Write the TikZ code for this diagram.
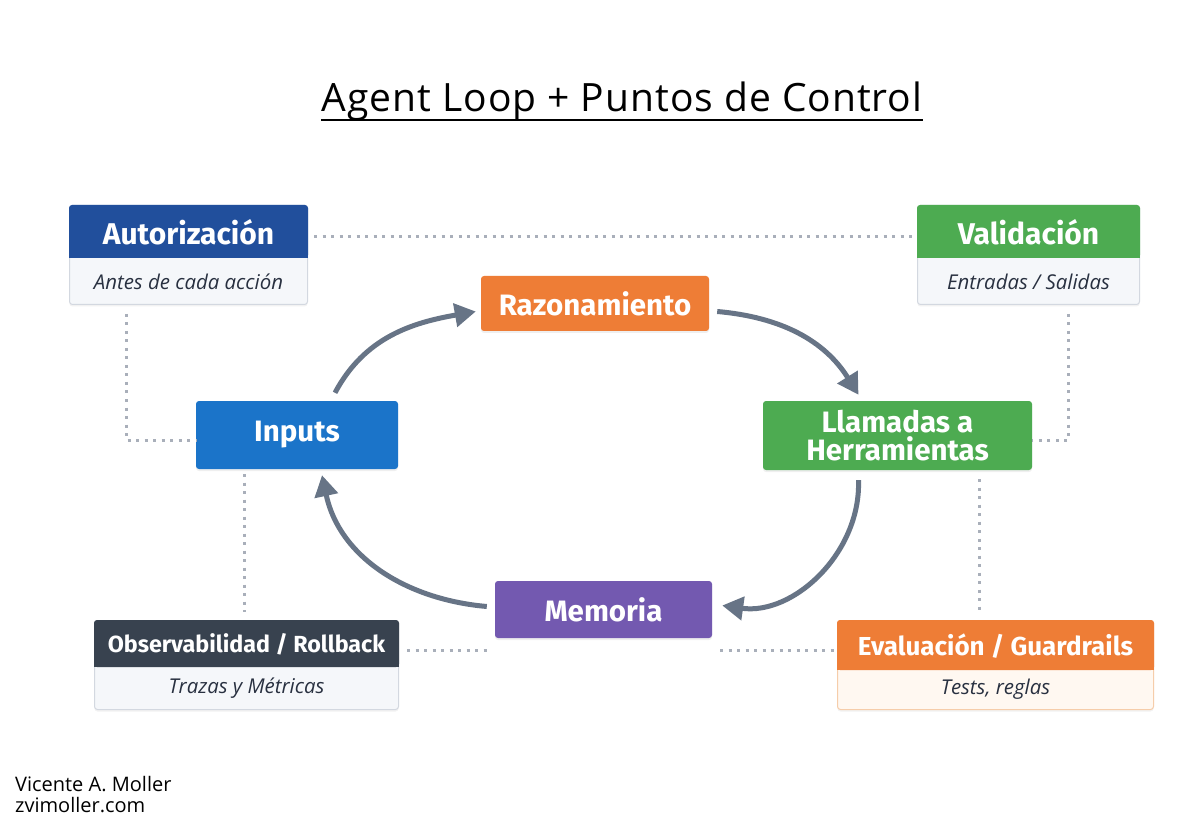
\documentclass[tikz,border=0pt]{standalone}
\usepackage{fontspec}
\setmainfont{Fira Sans}
\newfontfamily\opensans{Open Sans}
\newfontfamily\titlefont[LetterSpace=2.5]{Open Sans}
\usetikzlibrary{arrows.meta,shadows,calc}
\definecolor{autcol}{HTML}{214F9C}
\definecolor{valcol}{HTML}{4DAB51}
\definecolor{razcol}{HTML}{EE7D36}
\definecolor{inpcol}{HTML}{1B74C9}
\definecolor{memcol}{HTML}{7359B0}
\definecolor{obscol}{HTML}{38424F}
\definecolor{bodycol}{HTML}{F5F7FA}
\definecolor{bordcol}{HTML}{D3D8E0}
\definecolor{evabody}{HTML}{FFF8F1}
\definecolor{evabord}{HTML}{F6CDAA}
\definecolor{dotcol}{HTML}{A9AFBA}
\definecolor{arrcol}{HTML}{677486}
\definecolor{subtxt}{HTML}{283040}
\tikzset{
  x=1pt,y=1pt,
  loopbox/.style={rounded corners=3pt, inner sep=0pt, align=center, text=white,
    font=\fontsize{29.5}{28}\selectfont\bfseries,
    drop shadow={opacity=0.12, shadow xshift=0pt, shadow yshift=-2pt}},
  outerbox/.style={rounded corners=3pt, inner sep=0pt, fill=bodycol, draw=bordcol, line width=1pt,
    drop shadow={opacity=0.10, shadow xshift=0pt, shadow yshift=-2pt}},
  hdrtext/.style={inner sep=0pt, text=white, font=\fontsize{30}{30}\selectfont\bfseries},
  subtext/.style={inner sep=0pt, text=subtxt, font=\opensans\itshape\fontsize{20.4}{21}\selectfont},
  dotline/.style={draw=dotcol, line width=3pt, dash pattern=on 3pt off 5.5pt},
  looparrow/.style={draw=arrcol, line width=5pt, -{Triangle[length=21pt,width=23pt]}},
}
\begin{document}
\begin{tikzpicture}
\useasboundingbox (0,0) rectangle (1200,-826);
\fill[white] (0,0) rectangle (1200,-826);

% title
\node[anchor=base, inner sep=0pt, font=\titlefont\fontsize{39}{40}\selectfont] (title) at (622,-112) {Agent Loop + Puntos de Control};
\draw[line width=2pt] ([yshift=-8pt]title.base west) -- ([yshift=-8pt]title.base east);

% loop boxes
\node[loopbox, fill=razcol, minimum width=228pt, minimum height=55pt] (raz) at (595,-303.5) {Razonamiento};
\node[loopbox, fill=inpcol, minimum width=202pt, minimum height=68pt] (inp) at (297,-435) {Inputs};
\node[loopbox, fill=valcol, minimum width=269pt, minimum height=69pt] (llm) at (897.5,-435.5) {Llamadas a\\Herramientas};
\node[loopbox, fill=memcol, minimum width=217pt, minimum height=57pt] (mem) at (603.5,-609.5) {Memoria};

% Autorizacion
\node[outerbox, minimum width=238pt, minimum height=99pt, anchor=north west] (aut) at (69,-205) {};
\fill[autcol, rounded corners=3pt] (aut.north west) rectangle ([yshift=-53pt]aut.north east);
\fill[autcol] ([yshift=-20pt]aut.north west) rectangle ([yshift=-53pt]aut.north east);
\node[hdrtext] (autT) at ([yshift=-27pt]aut.north) {Autorización};
\node[subtext] (autS) at ([yshift=-77pt]aut.north) {Antes de cada acción};

% Validacion
\node[outerbox, minimum width=222pt, minimum height=99pt, anchor=north west] (val) at (917,-205) {};
\fill[valcol, rounded corners=3pt] (val.north west) rectangle ([yshift=-53pt]val.north east);
\fill[valcol] ([yshift=-20pt]val.north west) rectangle ([yshift=-53pt]val.north east);
\node[hdrtext] (valT) at ([yshift=-27pt]val.north) {Validación};
\node[subtext] (valS) at ([yshift=-77pt]val.north) {Entradas / Salidas};

% Observabilidad
\node[outerbox, minimum width=304pt, minimum height=89pt, anchor=north west] (obs) at (94,-620) {};
\fill[obscol, rounded corners=3pt] (obs.north west) rectangle ([yshift=-47pt]obs.north east);
\fill[obscol] ([yshift=-20pt]obs.north west) rectangle ([yshift=-47pt]obs.north east);
\node[hdrtext, font=\fontsize{23.3}{24}\selectfont\bfseries] (obsT) at ([yshift=-24pt]obs.north) {Observabilidad / Rollback};
\node[subtext] (obsS) at ([yshift=-68pt]obs.north) {Trazas y Métricas};

% Evaluacion
\node[outerbox, fill=evabody, draw=evabord, minimum width=316pt, minimum height=89pt, anchor=north west] (eva) at (837,-620) {};
\fill[razcol, rounded corners=3pt] (eva.north west) rectangle ([yshift=-50pt]eva.north east);
\fill[razcol] ([yshift=-20pt]eva.north west) rectangle ([yshift=-50pt]eva.north east);
\node[hdrtext, font=\fontsize{26}{27}\selectfont\bfseries] (evaT) at ([yshift=-26pt]eva.north) {Evaluación / Guardrails};
\node[subtext] (evaS) at ([yshift=-69pt]eva.north) {Tests, reglas};

% dotted connectors
\draw[dotline] ([xshift=6pt]aut.east |- 0,-237) -- ([xshift=-4pt]val.west |- 0,-237);
\draw[dotline] ([xshift=57pt,yshift=-9pt]aut.south west) |- ([yshift=-5pt]inp.west);
\draw[dotline] ([xshift=-72pt,yshift=-9pt]val.south east) |- ([yshift=-5pt]llm.east);
\draw[dotline] ([xshift=-53pt,yshift=-5pt]inp.south) -- ([xshift=-53pt,yshift=8pt]inp.south |- obs.north);
\draw[dotline] ([xshift=81.5pt,yshift=-9pt]llm.south) -- ([xshift=81.5pt,yshift=8pt]llm.south |- eva.north);
\coordinate (memL) at ([xshift=-6pt,yshift=-12pt]mem.south west);
\coordinate (memR) at ([xshift=8pt,yshift=-12pt]mem.south east);
\draw[dotline] ([xshift=8pt]obs.east |- memL) -- (memL);
\draw[dotline] (memR) -- ([xshift=-2pt]eva.west |- memR);

% loop arrows
\draw[looparrow] ([xshift=38pt,yshift=8pt]inp.north) to[out=62,in=190] ([xshift=-5pt,yshift=-8pt]raz.west);
\draw[looparrow] ([xshift=8pt,yshift=-8pt]raz.east) to[out=-5,in=122] ([xshift=-39pt,yshift=6pt]llm.north);
\draw[looparrow] ([xshift=-39pt,yshift=-10pt]llm.south) to[out=-88,in=-8] ([xshift=10pt,yshift=4pt]mem.east);
\draw[looparrow] ([xshift=-8pt,yshift=3pt]mem.west) to[out=175,in=-78] ([xshift=25pt,yshift=-6pt]inp.south);

% author
\node[anchor=base west, inner sep=0pt, font=\opensans\fontsize{20}{22}\selectfont] (auth1) at (15,-791) {Vicente A. Moller};
\node[anchor=base west, inner sep=0pt, font=\opensans\fontsize{20}{22}\selectfont] (auth2) at (15,-812) {zvimoller.com};
\end{tikzpicture}
\end{document}
